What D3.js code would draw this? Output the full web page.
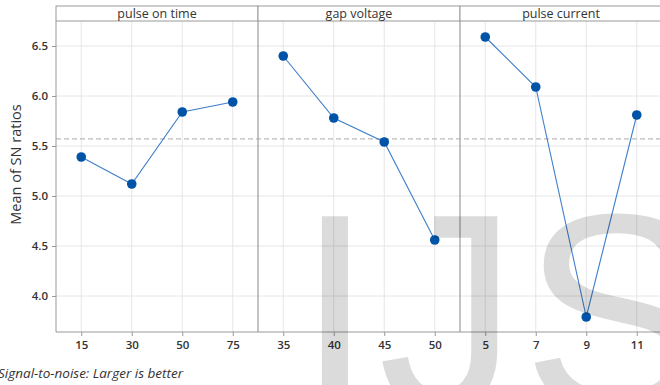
<!DOCTYPE html>
<html>
<head>
<meta charset="utf-8">
<script src="https://cdn.jsdelivr.net/npm/d3@7"></script>
<style>
  body { margin: 0; background: #fff; }
  svg { display: block; font-family: "Open Sans", "Noto Sans", sans-serif; }
</style>
</head>
<body>
<svg id="chart" width="660" height="385"></svg>
<script>
// main effects plot for SN ratios
const factors = ["pulse on time", "gap voltage", "pulse current"];
const levels = [
  ["15", "30", "50", "75"],
  ["35", "40", "45", "50"],
  ["5", "7", "9", "11"]
];
const snMeans = [
  [5.39, 5.12, 5.84, 5.94],
  [6.40, 5.78, 5.54, 4.56],
  [6.59, 6.09, 3.79, 5.81]
];
const yTicks = [4.0, 4.5, 5.0, 5.5, 6.0, 6.5];

let svg = d3.select("#chart");
let left = 56, panelW = 202, headTop = 6, plotTop = 21, plotBottom = 332;

let y = d3.scaleLinear().domain([3.64, 6.75]).range([plotBottom, plotTop]);
let grandMean = d3.mean(snMeans.flat());

// horizontal grid
svg.append("g").selectAll("line").data(yTicks).join("line")
  .attr("x1", left).attr("x2", 660)
  .attr("y1", d => y(d)).attr("y2", d => y(d))
  .attr("stroke", "#e6e6e6");

factors.forEach((f, i) => {
  let x0 = left + i * panelW;
  let x = d3.scalePoint().domain(levels[i]).range([x0, x0 + panelW]).padding(0.5);
  let g = svg.append("g");

  g.selectAll(".vgrid").data(levels[i]).join("line")
    .attr("x1", d => x(d)).attr("x2", d => x(d))
    .attr("y1", plotTop).attr("y2", plotBottom)
    .attr("stroke", "#e6e6e6");

  // x axis ticks + labels
  let ax = svg.append("g").attr("transform", `translate(0,${plotBottom})`)
    .call(d3.axisBottom(x).tickSize(4).tickPadding(5));
  ax.select(".domain").remove();
  ax.selectAll(".tick line").attr("stroke", "#999");
  ax.selectAll("text").attr("font-size", 11.5).attr("font-weight", 600)
    .attr("fill", "#333").attr("font-family", "Open Sans");

  // header
  svg.append("rect").attr("x", x0).attr("y", headTop)
    .attr("width", panelW).attr("height", plotTop - headTop)
    .attr("fill", "#fff").attr("stroke", "#999");
  svg.append("text").attr("x", x0 + panelW / 2).attr("y", 18)
    .attr("text-anchor", "middle").attr("font-size", 12.5).attr("fill", "#333")
    .text(f);

  if (i > 0) {
    svg.append("line").attr("x1", x0).attr("x2", x0)
      .attr("y1", plotTop).attr("y2", plotBottom).attr("stroke", "#888");
  }
});

// mean reference line
svg.append("line")
  .attr("x1", left).attr("x2", 660)
  .attr("y1", y(grandMean)).attr("y2", y(grandMean))
  .attr("stroke", "#aaa").attr("stroke-dasharray", "5,3");

// frame
svg.append("line").attr("x1", left).attr("x2", left).attr("y1", plotTop).attr("y2", plotBottom).attr("stroke", "#999");
svg.append("line").attr("x1", left).attr("x2", 660).attr("y1", plotBottom).attr("y2", plotBottom).attr("stroke", "#999");

// y axis
let yax = svg.append("g").attr("transform", `translate(${left},0)`)
  .call(d3.axisLeft(y).tickValues(yTicks).tickFormat(d3.format(".1f")).tickSize(4).tickPadding(4));
yax.select(".domain").remove();
yax.selectAll(".tick line").attr("stroke", "#999");
yax.selectAll("text").attr("font-size", 11.5).attr("font-weight", 600)
  .attr("fill", "#333").attr("font-family", "Open Sans");

// series
factors.forEach((f, i) => {
  let x0 = left + i * panelW;
  let x = d3.scalePoint().domain(levels[i]).range([x0, x0 + panelW]).padding(0.5);
  let pts = levels[i].map((l, k) => [x(l), y(snMeans[i][k])]);
  svg.append("path").attr("d", d3.line()(pts))
    .attr("fill", "none").attr("stroke", "#3f7fcb").attr("stroke-width", 1.1);
  svg.append("g").selectAll("circle").data(pts).join("circle")
    .attr("cx", d => d[0]).attr("cy", d => d[1]).attr("r", 4.8)
    .attr("fill", "#0053a6");
});

svg.append("text")
  .attr("transform", `translate(21,${(plotTop + plotBottom) / 2 - 12}) rotate(-90)`)
  .attr("text-anchor", "middle").attr("font-size", 14.5).attr("fill", "#333")
  .text("Mean of SN ratios");

svg.append("text").attr("x", -2).attr("y", 378)
  .attr("font-size", 13.5).attr("font-style", "italic").attr("fill", "#333")
  .text("Signal-to-noise: Larger is better");

// watermark
let wm = svg.append("g").attr("font-family", "Liberation Sans").attr("font-size", 280)
  .attr("fill", "#000").attr("fill-opacity", 0.14);
wm.append("text").attr("x", 296).attr("y", 409).text("I");
wm.append("text").attr("x", 378).attr("y", 409).text("J");
wm.append("text").attr("x", 522).attr("y", 409).text("S");
</script>
</body>
</html>
